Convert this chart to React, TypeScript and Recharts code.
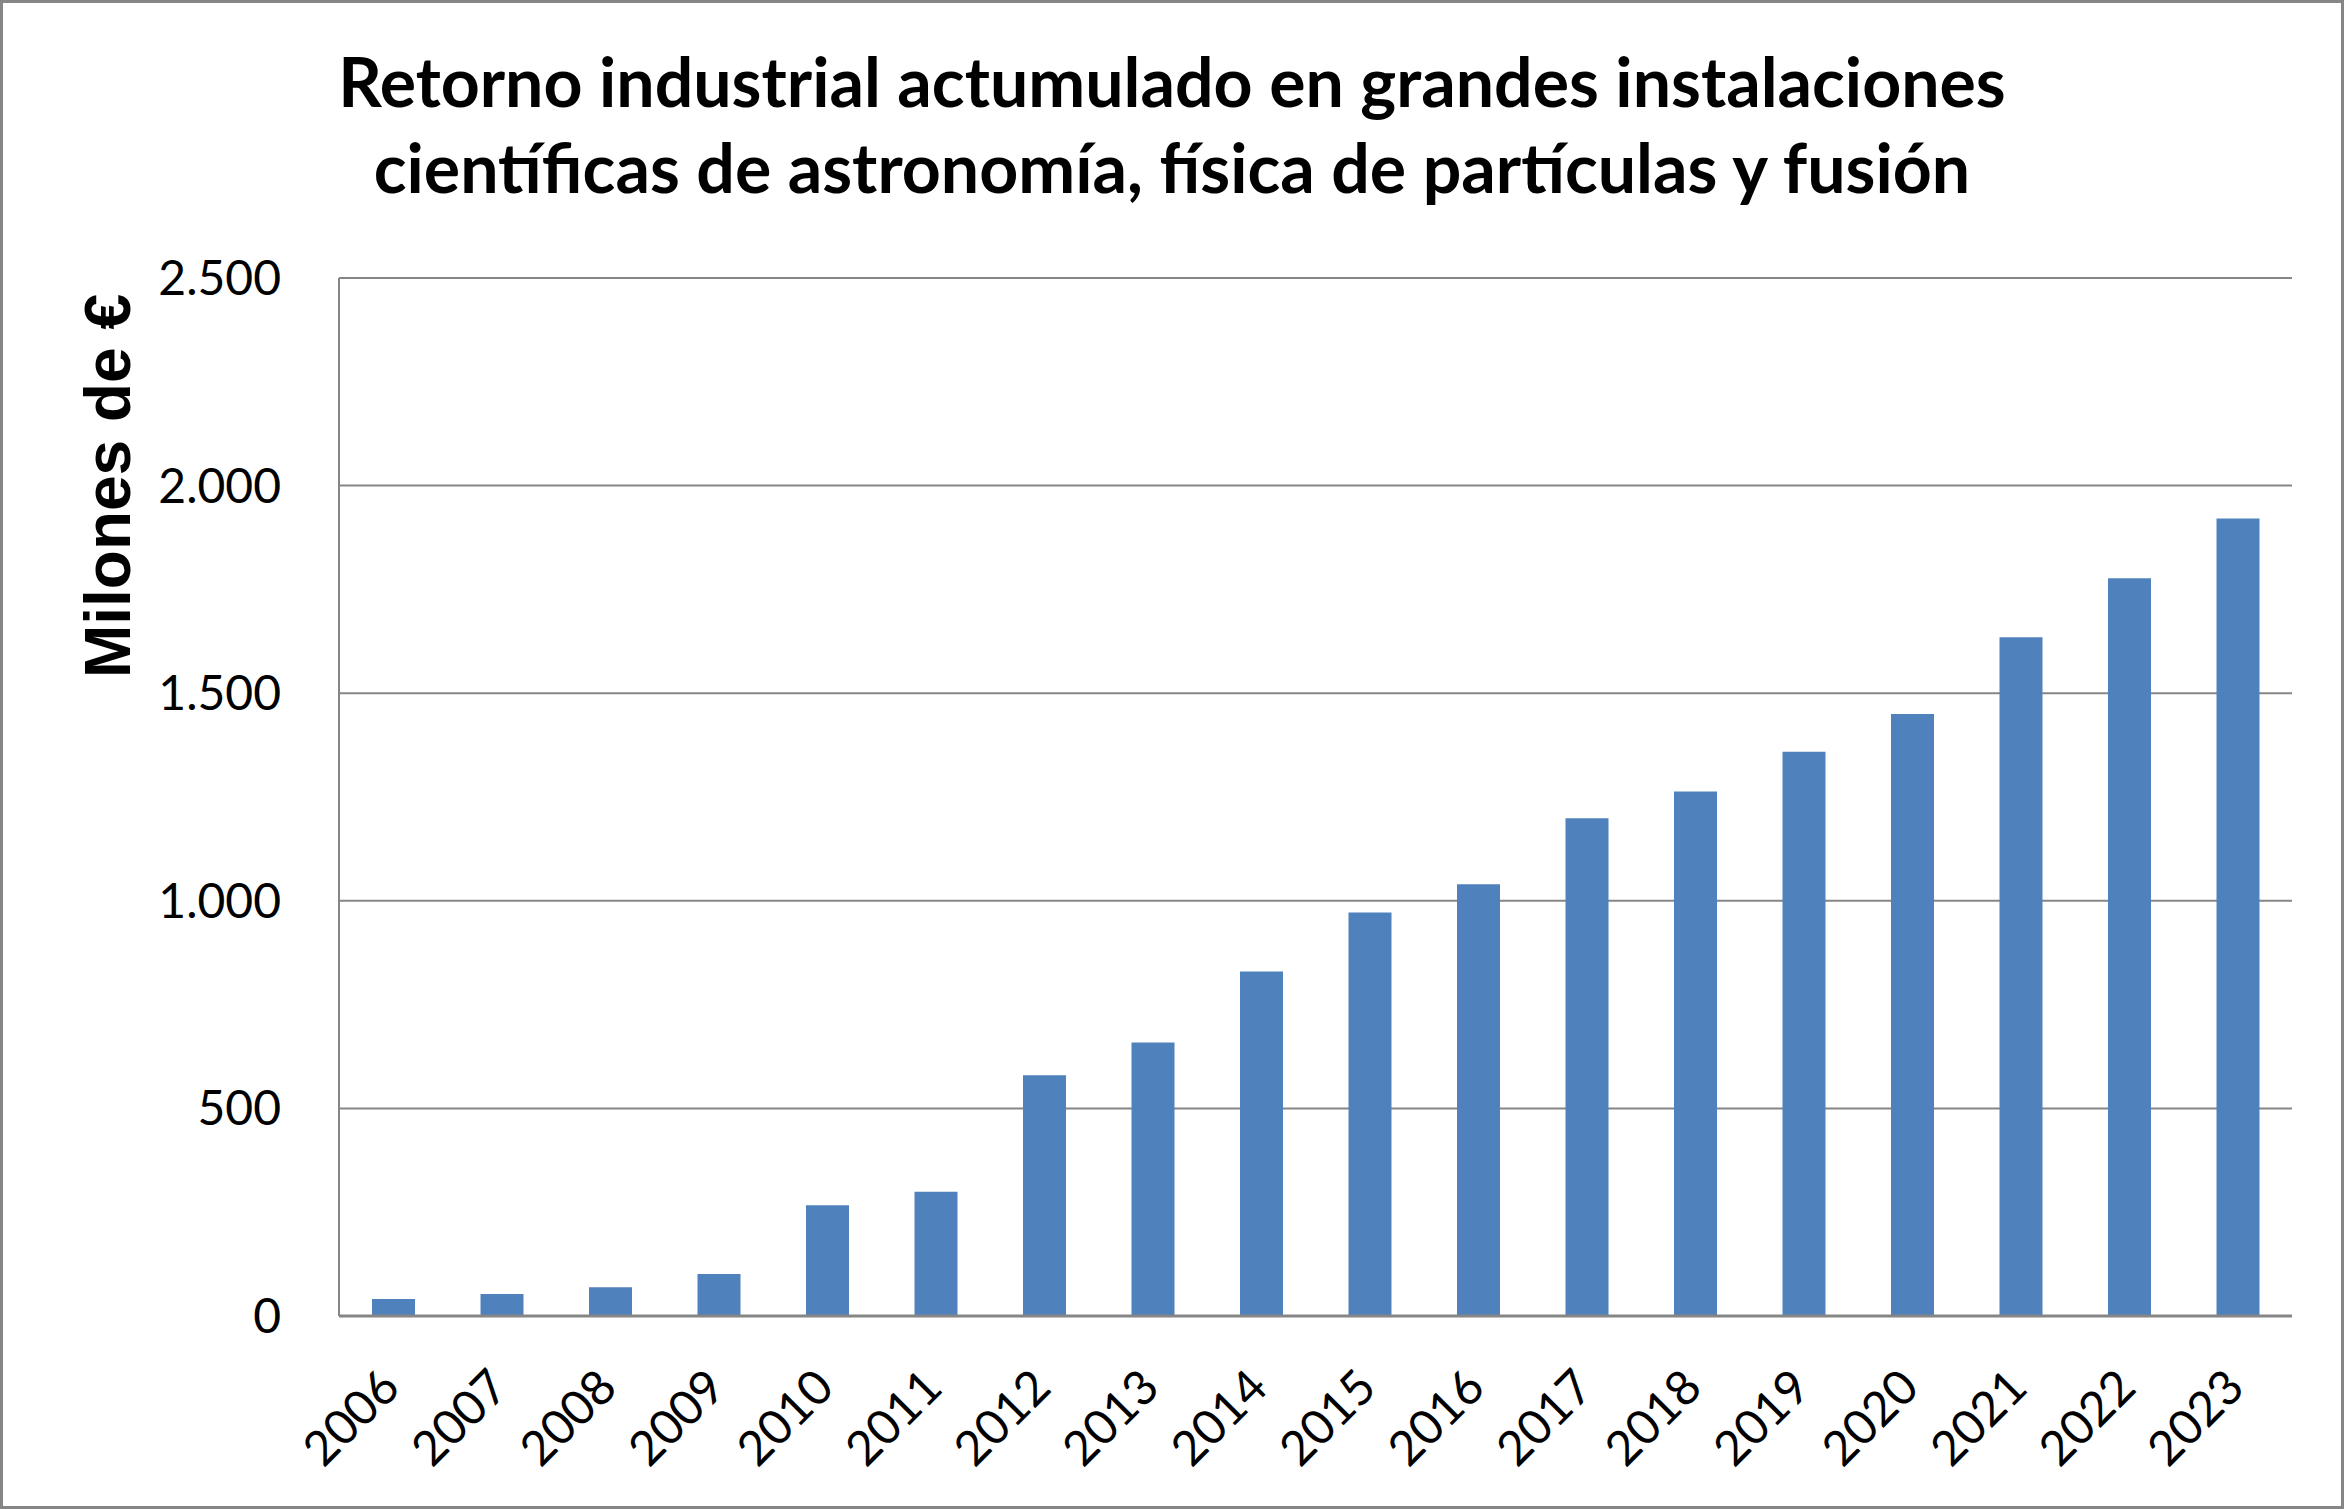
import React from 'react';
import { BarChart, Bar, XAxis, YAxis, CartesianGrid } from 'recharts';

const years = ['2006','2007','2008','2009','2010','2011','2012','2013','2014','2015','2016','2017','2018','2019','2020','2021','2022','2023'];
const retorno = [41, 53, 69, 101, 267, 299, 580, 659, 830, 972, 1040, 1199, 1263, 1359, 1450, 1635, 1777, 1921];
const yTicks = [0, 500, 1000, 1500, 2000, 2500];
const titleLines = ['Retorno industrial actumulado en grandes instalaciones', 'científicas de astronomía, física de partículas y fusión'];
const yLabel = 'Milones de €';

const data = years.map((y, i) => ({ year: y, value: retorno[i] }));

const fmt = (v: number) => String(v).replace(/\B(?=(\d{3})+(?!\d))/g, '.');

const FONT = 'Lato, "Open Sans", sans-serif';

const XTick = (props: any) => {
  const { x, y, payload } = props;
  return (
    <text
      x={x + 9}
      y={y + 74}
      textAnchor="end"
      transform={`rotate(-45, ${x + 9}, ${y + 74})`}
      fontFamily={FONT}
      fontSize={48}
      fill="#000"
    >
      {payload.value}
    </text>
  );
};

export default function App() {
  return (
    <div
      style={{
        position: 'absolute',
        left: 0,
        top: 0,
        width: 2344,
        height: 1509,
        boxSizing: 'border-box',
        border: '3px solid #868686',
        background: '#fff',
      }}
    >
      <BarChart
        width={2338}
        height={1503}
        data={data}
        margin={{ top: 275, right: 49, bottom: 0, left: 0 }}
      >
        <CartesianGrid vertical={false} stroke="#868686" strokeWidth={2} />
        <XAxis
          dataKey="year"
          height={190}
          interval={0}
          tickLine={false}
          tickSize={0}
          tickMargin={0}
          axisLine={{ stroke: '#868686', strokeWidth: 3 }}
          tick={<XTick />}
        />
        <YAxis
          width={336}
          domain={[0, 2500]}
          ticks={yTicks}
          tickFormatter={fmt}
          tickLine={false}
          tickSize={0}
          tickMargin={58}
          axisLine={{ stroke: '#868686', strokeWidth: 2 }}
          tick={{ fontFamily: FONT, fontSize: 48, fill: '#000' }}
        />
        <Bar dataKey="value" fill="#4F81BD" barSize={43} isAnimationActive={false} />
      </BarChart>
      <svg
        width={2338}
        height={1503}
        style={{ position: 'absolute', left: 0, top: 0, pointerEvents: 'none' }}
      >
        <text x={1169} y={104} textAnchor="middle" fontFamily={FONT} fontWeight={700} fontSize={68} fill="#000">
          {titleLines[0]}
        </text>
        <text x={1169} y={190} textAnchor="middle" fontFamily={FONT} fontWeight={700} fontSize={68} fill="#000">
          {titleLines[1]}
        </text>
        <text
          x={127}
          y={483}
          textAnchor="middle"
          transform="rotate(-90, 127, 483)"
          fontFamily='"Liberation Sans", Arial, sans-serif'
          fontWeight={700}
          fontSize={64}
          fill="#000"
        >
          {yLabel}
        </text>
      </svg>
    </div>
  );
}
